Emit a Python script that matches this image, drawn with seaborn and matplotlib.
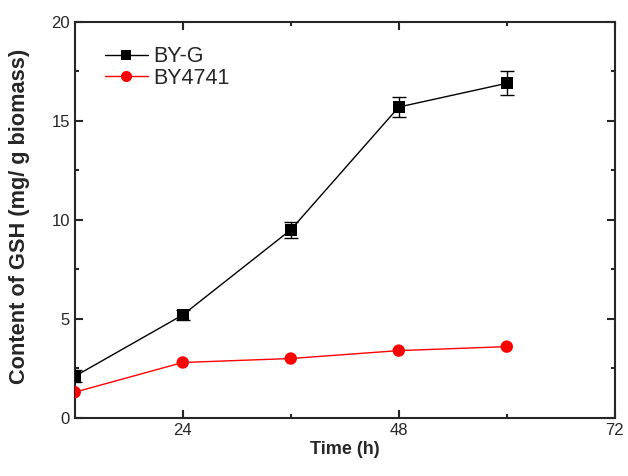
import matplotlib
matplotlib.use("Agg")
import matplotlib.pyplot as plt
import seaborn as sns
import pandas as pd
from matplotlib.lines import Line2D
from matplotlib.ticker import MultipleLocator

time_h = [12, 24, 36, 48, 60]
byg = [2.1, 5.2, 9.5, 15.7, 16.9]
byg_err = [0.3, 0.25, 0.4, 0.5, 0.6]
by4741 = [1.3, 2.8, 3.0, 3.4, 3.6]
series_names = ["BY-G", "BY4741"]

sns.set_style("ticks")
plt.rcParams['font.family'] = ['Liberation Sans', 'DejaVu Sans']

fig = plt.figure(figsize=(6.28, 4.76), dpi=100)
ax = fig.add_axes([0.119, 0.122, 0.860, 0.832])

df = pd.DataFrame({"Time": time_h * 2,
                   "val": byg + by4741,
                   "series": [series_names[0]] * 5 + [series_names[1]] * 5})
palette = {"BY-G": "black", "BY4741": "red"}
markers = {"BY-G": "s", "BY4741": "o"}

ax.errorbar(time_h, byg, yerr=byg_err, fmt='none', ecolor='black',
            elinewidth=1, capsize=5, capthick=1, zorder=3)
sns.lineplot(data=df, x="Time", y="val", hue="series", palette=palette,
             linewidth=1, ax=ax, zorder=4, legend=False)
sns.scatterplot(data=df, x="Time", y="val", hue="series", style="series",
                palette=palette, markers=markers, s=80, linewidth=0,
                ax=ax, zorder=5, legend=False)

ax.set_xlim(12, 72)
ax.set_ylim(0, 20)
ax.xaxis.set_major_locator(MultipleLocator(24))
ax.xaxis.set_minor_locator(MultipleLocator(12))
ax.yaxis.set_major_locator(MultipleLocator(5))
ax.yaxis.set_minor_locator(MultipleLocator(2.5))
ax.set_xticks([24, 48, 72])
ax.tick_params(which='both', direction='in', top=True, right=True, width=1.5, labelsize=12)
ax.tick_params(which='major', length=6)
ax.tick_params(which='minor', length=3)
for s in ax.spines.values():
    s.set_linewidth(1.5)

ax.set_xlabel("Time (h)", fontsize=13, fontweight='bold', labelpad=2)
ax.set_ylabel("Content of GSH (mg/ g biomass)", fontsize=15.7, fontweight='bold')
ax.yaxis.set_label_coords(-0.082, 0.51)

handles = [Line2D([], [], color=palette[n], marker=markers[n], lw=1,
                  markersize=7 if markers[n] == "s" else 8, markeredgewidth=0)
           for n in series_names]
ax.legend(handles, series_names, loc='upper left', bbox_to_anchor=(0.04, 0.96),
          frameon=False, fontsize=15.5, handlelength=2.0, handletextpad=0.25,
          labelspacing=0.02, borderaxespad=0)
fig.savefig("out.png", dpi=100)
